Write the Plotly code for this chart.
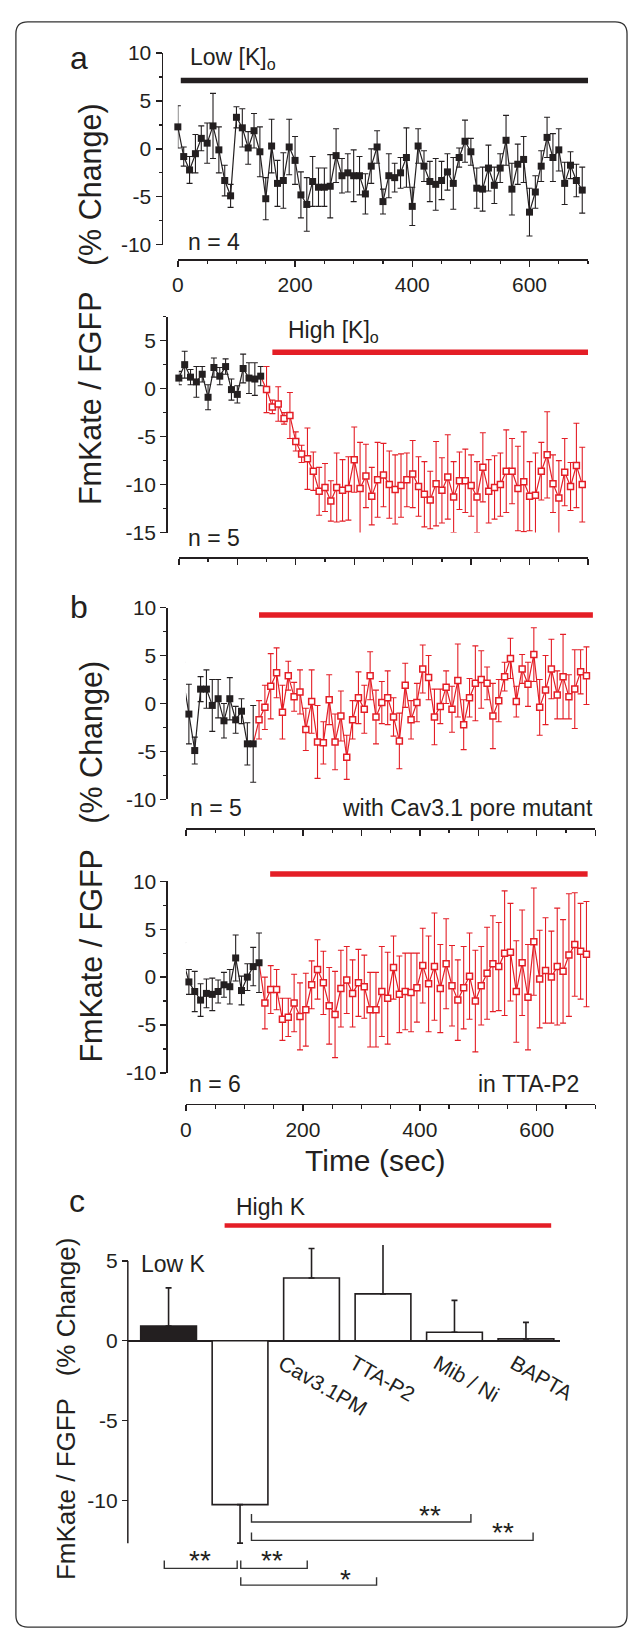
import plotly.graph_objects as go

W, H = 629, 1640
BLACK = "#231f20"
RED = "#e41e26"
FONT = "Liberation Sans, Arial, Helvetica, sans-serif"

# ------------------------------------------------------------------ data
# panel a (top): low [K]o, 10 s sampling
a_low_t = list(range(0, 700, 10))
a_low_y = [2.3, -0.8, -2.2, -0.5, 1.1, 0.6, 2.4, -0.1, -3.3, -4.9,
           3.3, 2.2, 0.1, 1.9, -0.3, -5.2, 0.3, -3.6, -3.3, 0.2,
           -1.2, -4.8, -5.8, -3.4, -4.0, -4.0, -3.9, -0.7, -2.8, -2.5,
           -2.8, -2.8, -4.7, -1.8, 0.2, -5.5, -2.8, -3.0, -2.5, -0.9,
           -6.0, 0.3, -1.8, -3.4, -3.7, -3.3, -2.4, -3.6, -0.9, 0.8,
           -0.3, -4.1, -4.2, -2.0, -3.8, -2.0, 0.9, -4.2, -1.6, -1.1,
           -6.6, -4.5, -1.8, 1.2, -0.9, -0.1, -3.6, -1.7, -3.3, -4.3]
a_low_err = [2.2, 1.0, 1.4, 2.0, 1.3, 2.1, 3.4, 2.4, 1.6, 1.2,
             1.1, 2.0, 1.7, 1.8, 2.6, 2.2, 2.8, 2.4, 2.9, 2.9,
             2.5, 2.4, 2.8, 2.6, 2.0, 2.0, 3.3, 2.8, 1.8, 2.0,
             2.7, 2.0, 2.1, 1.8, 1.7, 1.3, 2.3, 1.5, 1.6, 3.1,
             2.0, 1.8, 1.6, 2.1, 2.7, 2.0, 1.9, 2.7, 1.0, 2.2,
             1.4, 2.1, 2.3, 2.4, 1.9, 1.5, 2.6, 2.7, 2.1, 2.4,
             2.5, 1.7, 1.6, 2.1, 2.5, 2.2, 2.2, 1.4, 1.7, 2.4]

# panel a (bottom): high [K]o
a_high_base_t = list(range(0, 150, 10))
a_high_base_y = [1.1, 2.5, 1.2, 0.7, 1.5, -0.9, 2.2, 1.3, 2.3, -0.1,
                 -0.6, 2.1, 1.1, 1.0, 1.3]
a_high_base_err = [0.7, 1.4, 0.8, 1.6, 0.8, 1.3, 1.0, 0.9, 0.8, 1.1,
                   0.9, 1.5, 1.6, 1.7, 1.0]
a_high_k_t = list(range(150, 700, 10))
a_high_k_y = [-0.1, -1.9, -1.6, -3.1, -2.8, -5.5, -6.8, -7.3, -8.6, -10.7,
              -10.3, -11.7, -10.3, -10.6, -10.4, -7.4, -10.4, -9.1, -11.2, -9.5,
              -9.0, -10.0, -10.5, -10.1, -9.5, -8.9, -10.2, -11.0, -11.6, -9.9,
              -10.6, -9.2, -11.3, -9.6, -9.6, -10.1, -11.3, -8.2, -10.7, -10.3,
              -10.0, -8.6, -8.6, -10.4, -9.7, -11.2, -11.1, -8.6, -6.9, -9.9,
              -11.4, -8.7, -10.2, -8.0, -10.0]
a_high_k_err = [2.4, 0.7, 1.8, 0.6, 2.4, 1.0, 0.9, 3.2, 2.0, 2.5,
                2.5, 2.1, 3.6, 3.2, 3.3, 3.4, 4.8, 3.3, 3.0, 3.9,
                3.3, 3.5, 3.6, 3.3, 2.8, 3.5, 3.1, 3.4, 3.0, 4.4,
                3.4, 4.4, 3.7, 3.0, 3.3, 3.2, 3.7, 3.6, 3.3, 3.3,
                3.3, 4.3, 3.4, 4.4, 5.2, 3.6, 4.4, 3.0, 4.5, 3.0,
                3.9, 3.5, 2.5, 4.4, 3.9]

# panel b (top): with Cav3.1 pore mutant
b_pm_base_t = list(range(-5, 125, 10))
b_pm_base_y = [2.7, -1.1, -4.9, 1.5, 1.5, -0.2, 0.5, -1.8, 0.5, -1.7,
               -0.8, -4.2, -4.2]
b_pm_base_err = [1.6, 3.1, 1.4, 1.3, 2.0, 2.7, 2.0, 1.8, 2.2, 1.4,
                 1.3, 2.2, 4.0]
b_pm_k_t = list(range(125, 695, 10))
b_pm_k_y = [-1.7, -0.4, 1.8, 3.2, -0.9, 2.9, 0.7, 1.2, -2.7, 0.2,
            -4.0, -4.1, 0.4, -4.0, -1.3, -5.6, -1.7, 0.6, -0.6, 2.9,
            -1.4, 0.1, 0.6, -1.4, -3.9, 1.9, -1.7, 0.1, 3.6, 2.7,
            -1.4, -0.3, 1.7, -0.6, 2.4, -2.2, 0.6, 2.1, 2.5, 2.1,
            -1.3, 0.3, 2.8, 4.7, 0.2, 3.6, 2.0, 5.1, -0.4, 1.4,
            3.6, 0.9, 2.8, 0.7, 1.5, 3.3, 2.9]
b_pm_k_err = [2.0, 2.3, 3.4, 2.6, 2.8, 1.5, 1.5, 2.3, 2.2, 3.3,
              3.8, 2.2, 2.6, 2.9, 2.6, 2.3, 2.0, 2.7, 2.5, 2.5,
              2.8, 2.2, 2.8, 2.0, 2.9, 2.3, 2.0, 2.0, 2.5, 2.3,
              2.9, 1.8, 1.7, 2.4, 3.8, 2.6, 2.0, 3.9, 3.0, 1.7,
              3.4, 2.2, 1.5, 2.1, 1.6, 1.5, 2.3, 2.8, 2.9, 3.6,
              3.1, 2.5, 4.4, 2.3, 4.1, 2.3, 3.0]

# panel b (bottom): in TTA-P2
b_tta_base_t = list(range(-5, 135, 10))
b_tta_base_y = [1.8, -0.5, -1.5, -2.4, -1.7, -1.8, -1.5, -0.8, -1.0, 2.0,
                -1.4, 0.0, 1.1, 1.5]
b_tta_base_err = [1.8, 1.3, 2.1, 1.7, 1.5, 1.7, 1.2, 1.3, 1.8, 2.4,
                  1.5, 1.4, 2.0, 3.1]
b_tta_k_t = list(range(135, 695, 10))
b_tta_k_y = [-2.7, -1.3, -1.3, -4.4, -4.2, -2.7, -4.1, -3.4, -0.8, 0.8,
             -0.6, -3.0, -3.9, -1.2, -0.3, -1.7, -0.6, -1.0, -3.4, -3.4,
             -1.5, -2.2, 1.0, -1.8, -1.5, -1.6, -1.1, 1.2, -0.7, 1.1,
             -1.2, 1.4, -0.9, -2.4, -1.1, 0.1, -2.5, -0.9, 0.4, 1.4,
             1.1, 2.5, 2.6, -1.5, 1.5, -2.1, 3.7, -0.2, 0.7, 0.0,
             1.1, 0.6, 2.3, 3.4, 2.7, 2.4]
b_tta_k_err = [2.7, 2.5, 2.1, 2.2, 2.0, 3.0, 3.5, 3.8, 2.5, 3.1,
               3.3, 4.0, 4.5, 4.0, 3.5, 3.5, 3.5, 3.3, 3.9, 3.9,
               4.7, 4.8, 3.3, 4.0, 4.0, 4.1, 3.6, 3.9, 5.0, 5.6,
               4.6, 4.7, 4.2, 4.2, 4.3, 4.5, 5.3, 4.1, 4.8, 5.0,
               4.6, 6.5, 5.1, 5.3, 5.5, 5.5, 5.6, 5.1, 5.5, 4.8,
               6.1, 5.4, 6.4, 5.4, 5.0, 5.5]

# treatment periods (sec)
a_low_period = [5, 700]
a_high_period = [160, 700]
b_pm_period = [125, 696]
b_tta_period = [144, 687]

# panel c: summary bars
bar_labels = ["Low K", "High K", "Cav3.1PM", "TTA-P2", "Mib / Ni", "BAPTA"]
bar_values = [0.93, -10.26, 3.93, 2.94, 0.53, 0.12]
bar_err = [2.38, 2.41, 1.85, 3.29, 2.0, 1.03]
sig_marks = ["**", "**", "*", "**", "**"]

x_label_ticks = [0, 200, 400, 600]
x_all_ticks = [0, 100, 200, 300, 400, 500, 600, 700]

# ------------------------------------------------------------------ helpers
def pxx(p):
    return p / W


def pxy(p):
    return 1 - p / H


def ydom(top, bottom):
    return [1 - bottom / H, 1 - top / H]


def fmt(v):
    return f"{v:g}"


fig = go.Figure()


def add_series(t, y, err, color, filled, xa, ya):
    fig.add_trace(go.Scatter(
        x=t, y=y, mode="lines+markers", xaxis=xa, yaxis=ya,
        cliponaxis=False,
        line=dict(color=color, width=1.2),
        marker=dict(symbol="square", size=7 if filled else 6,
                    color=color if filled else "white",
                    line=dict(color=color, width=0 if filled else 1.5)),
        error_y=dict(type="data", array=err, visible=True, color=color,
                     thickness=1.1, width=3),
        showlegend=False, hoverinfo="skip"))


def add_connector(t0, y0, t1, y1, xa, ya):
    fig.add_trace(go.Scatter(x=[t0, t1], y=[y0, y1], mode="lines",
                             xaxis=xa, yaxis=ya, cliponaxis=False,
                             line=dict(color=RED, width=1.2),
                             showlegend=False, hoverinfo="skip"))


add_series(a_low_t, a_low_y, a_low_err, BLACK, True, "x", "y")
add_connector(a_high_base_t[-1], a_high_base_y[-1], a_high_k_t[0], a_high_k_y[0], "x2", "y2")
add_series(a_high_base_t, a_high_base_y, a_high_base_err, BLACK, True, "x2", "y2")
add_series(a_high_k_t, a_high_k_y, a_high_k_err, RED, False, "x2", "y2")
add_connector(b_pm_base_t[-1], b_pm_base_y[-1], b_pm_k_t[0], b_pm_k_y[0], "x3", "y3")
add_series(b_pm_base_t, b_pm_base_y, b_pm_base_err, BLACK, True, "x3", "y3")
add_series(b_pm_k_t, b_pm_k_y, b_pm_k_err, RED, False, "x3", "y3")
add_connector(b_tta_base_t[-1], b_tta_base_y[-1], b_tta_k_t[0], b_tta_k_y[0], "x4", "y4")
add_series(b_tta_base_t, b_tta_base_y, b_tta_base_err, BLACK, True, "x4", "y4")
add_series(b_tta_k_t, b_tta_k_y, b_tta_k_err, RED, False, "x4", "y4")

bar_x = list(range(len(bar_labels)))
fig.add_trace(go.Bar(
    x=bar_x, y=bar_values, width=0.78, xaxis="x5", yaxis="y5",
    marker=dict(color=[BLACK if i == 0 else "white" for i in bar_x],
                line=dict(color=BLACK, width=1.6)),
    error_y=dict(type="data", symmetric=False,
                 array=[e if v > 0 else 0 for v, e in zip(bar_values, bar_err)],
                 arrayminus=[e if v < 0 else 0 for v, e in zip(bar_values, bar_err)],
                 color=BLACK, thickness=1.6, width=3),
    showlegend=False, hoverinfo="skip"))

# ------------------------------------------------------------------ axes
tickfont = dict(family=FONT, size=21, color=BLACK)


def time_axis(dom_l, dom_r, pos_y, labels):
    ax = dict(domain=[pxx(dom_l), pxx(dom_r)], range=[0, 700], anchor="free",
              position=pxy(pos_y), showline=True, linecolor=BLACK, linewidth=1.5,
              showgrid=False, zeroline=False, ticks="outside", ticklen=6,
              tickwidth=1.4, tickcolor=BLACK, tickmode="array", tickfont=tickfont,
              minor=dict(dtick=50, tick0=0, ticks="outside", ticklen=3.5,
                         tickwidth=1.2, tickcolor=BLACK))
    if labels:
        ax.update(tickvals=x_label_ticks, ticktext=[fmt(v) for v in x_label_ticks],
                  showticklabels=True)
    else:
        ax.update(tickvals=x_all_ticks, showticklabels=False)
    return ax


def value_axis(top, bottom, rng, pos_x, vals):
    return dict(domain=ydom(top, bottom), range=rng, anchor="free",
                position=pxx(pos_x), showline=True, linecolor=BLACK, linewidth=1.5,
                showgrid=False, zeroline=False, ticks="outside", ticklen=6,
                tickwidth=1.4, tickcolor=BLACK, tickmode="array", tickvals=vals,
                ticktext=[fmt(v) for v in vals], tickfont=tickfont,
                minor=dict(dtick=2.5, tick0=0, ticks="outside", ticklen=3,
                           tickwidth=1.2, tickcolor=BLACK))


fig.update_layout(
    xaxis=time_axis(173.5, 587.7, 251, True),
    yaxis=value_axis(41.7, 236, [-10, 10], 157, [-10, -5, 0, 5, 10]),
    xaxis2=time_axis(174.5, 587.7, 553, False),
    yaxis2=value_axis(309, 528, [-15, 7.5], 161.7, [-15, -10, -5, 0, 5]),
    xaxis3=time_axis(181.7, 594.9, 828, False),
    yaxis3=value_axis(604, 798.7, [-10, 10], 162, [-10, -5, 0, 5, 10]),
    xaxis4=time_axis(181.7, 594.9, 1107.5, True),
    yaxis4=value_axis(881.7, 1076, [-10, 10], 162, [-10, -5, 0, 5, 10]),
    xaxis5=dict(domain=[pxx(123), pxx(559.6)], range=[-0.57, 5.48], anchor="y5",
                showline=False, showgrid=False, zeroline=False, showticklabels=False,
                ticks=""),
    yaxis5=dict(domain=ydom(1250.5, 1610.1), range=[-16.2, 6], anchor="free",
                position=pxx(123), showline=False, showgrid=False, zeroline=True,
                zerolinecolor=BLACK, zerolinewidth=1.6, ticks="outside", ticklen=6,
                tickwidth=1.4, tickcolor=BLACK, tickmode="array",
                tickvals=[-10, -5, 0, 5], ticktext=[fmt(v) for v in [-10, -5, 0, 5]],
                tickfont=tickfont),
)

# ------------------------------------------------------------------ shapes
shapes = []


def period_bar(xa, period, ypx, color):
    shapes.append(dict(type="line", xref=xa, yref="paper", x0=period[0], x1=period[1],
                       y0=pxy(ypx), y1=pxy(ypx), line=dict(color=color, width=5.5)))


period_bar("x", a_low_period, 69.5, BLACK)
period_bar("x2", a_high_period, 345, RED)
period_bar("x3", b_pm_period, 611.7, RED)
period_bar("x4", b_tta_period, 874.3, RED)
shapes.append(dict(type="line", xref="x5", yref="paper", x0=0.784, x1=5.353,
                   y0=pxy(1230.7), y1=pxy(1230.7), line=dict(color=RED, width=4.5)))
shapes.append(dict(type="line", xref="paper", yref="y5", x0=pxx(123), x1=pxx(123),
                   y0=bar_values[1] - bar_err[1], y1=5, line=dict(color=BLACK, width=1.5)))

brackets = [(-0.06, 0.96, -14.25, -13.75), (1.01, 1.94, -14.25, -13.75),
            (1.01, 2.91, -15.3, -14.8), (1.16, 4.23, -11.35, -10.85),
            (1.16, 5.10, -12.5, -12.0)]
star_pos = [(0.44, -13.75), (1.45, -13.75), (2.47, -14.95), (3.66, -10.95), (4.68, -12.0)]
for (x0, x1, yl, yt) in brackets:
    shapes.append(dict(type="path", xref="x5", yref="y5",
                       path=f"M {x0},{yt} L {x0},{yl} L {x1},{yl} L {x1},{yt}",
                       line=dict(color="#333333", width=1.4)))

x0f, x1f, y0f, y1f = pxx(10), pxx(627), pxy(1638), pxy(10)
rx, ry = 12 / W, 12 / H
shapes.append(dict(
    type="path", xref="paper", yref="paper", layer="below",
    path=(f"M {x0f+rx},{y1f} L {x1f-rx},{y1f} Q {x1f},{y1f} {x1f},{y1f-ry} "
          f"L {x1f},{y0f+ry} Q {x1f},{y0f} {x1f-rx},{y0f} L {x0f+rx},{y0f} "
          f"Q {x0f},{y0f} {x0f},{y0f+ry} L {x0f},{y1f-ry} Q {x0f},{y1f} {x0f+rx},{y1f} Z"),
    line=dict(color="#333333", width=1.3)))

# ------------------------------------------------------------------ annotations
ann = []


def text(t, x, y, size=23, xanchor="left", yanchor="middle", angle=0,
         xref="paper", yref="paper"):
    ann.append(dict(text=t, x=x, y=y, xref=xref, yref=yref, xanchor=xanchor,
                    yanchor=yanchor, textangle=angle, showarrow=False,
                    font=dict(family=FONT, size=size, color=BLACK)))


title_txt = "FmKate / FGFP\u00a0\u00a0\u00a0(% Change)"
text("a", pxx(74), pxy(46.5), size=32, xanchor="center")
text("b", pxx(74), pxy(603), size=32, xanchor="center")
text("c", pxx(72), pxy(1206), size=32, xanchor="center")
text(title_txt, pxx(86), pxy(296), size=30.5, xanchor="center", angle=-90)
text(title_txt, pxx(86), pxy(861.5), size=30.5, xanchor="center", angle=-90)
text(title_txt, pxx(60), pxy(1416.5), size=26, xanchor="center", angle=-90)

text("Low [K]<sub>o</sub>", pxx(184), pxy(47))
text("n = 4", pxx(182), pxy(233))
text("High [K]<sub>o</sub>", pxx(283), pxy(324))
text("n = 5", pxx(182), pxy(533))
text("n = 5", pxx(183.7), pxy(807))
text("with Cav3.1 pore mutant", pxx(595), pxy(807), xanchor="right")
text("n = 6", pxx(183), pxy(1087))
text("in TTA-P2", pxx(581), pxy(1087), xanchor="right")
text("Time (sec)", pxx(373), pxy(1165), size=30, xanchor="center")

text("High K", pxx(230.6), pxy(1211.7))
text("Low K", pxx(134), pxy(1270))
label_dx = [None, None, -0.55, -0.55, -0.38, -0.31]
for i, lab in enumerate(bar_labels):
    if label_dx[i] is None:
        continue
    text(lab, bar_x[i] + label_dx[i], -0.45, size=21, xanchor="left", yanchor="top",
         angle=30, xref="x5", yref="y5")
for (sx, sy), s in zip(star_pos, sig_marks):
    text(s, sx, sy, size=28, xanchor="center", yanchor="middle", xref="x5", yref="y5")

fig.update_layout(
    width=W, height=H, autosize=False, margin=dict(l=0, r=0, t=0, b=0),
    paper_bgcolor="white", plot_bgcolor="rgba(0,0,0,0)", showlegend=False,
    font=dict(family=FONT, color=BLACK), shapes=shapes, annotations=ann)

fig.write_html(
    "out.html",
    config={"displayModeBar": False, "staticPlot": True},
    post_script="document.body.style.margin='0';document.body.style.overflow='hidden';")
